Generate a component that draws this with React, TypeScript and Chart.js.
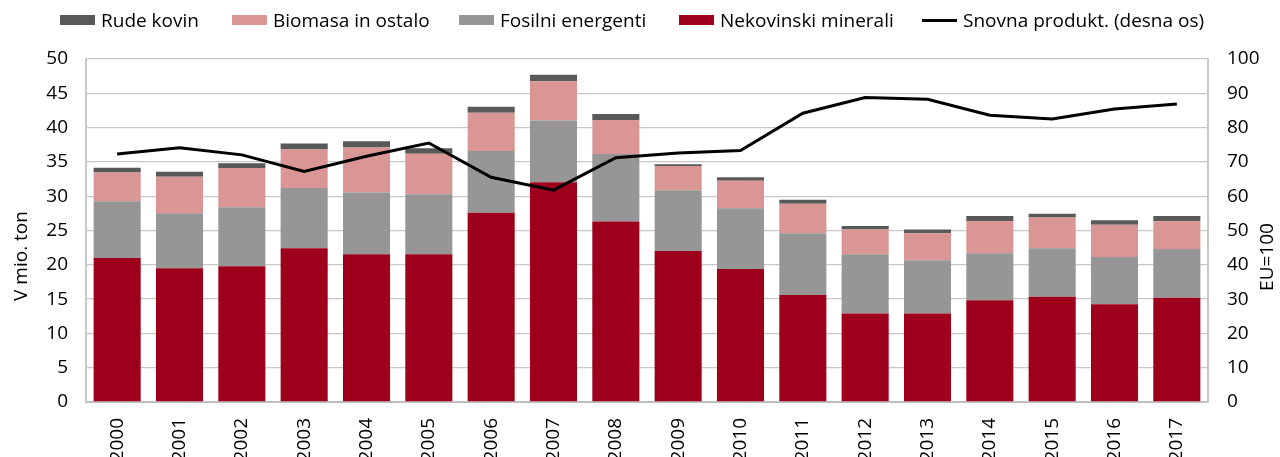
import React, { useEffect, useRef } from "react";
import { Chart, registerables } from "chart.js";

Chart.register(...registerables);

const years = ["2000", "2001", "2002", "2003", "2004", "2005", "2006", "2007", "2008", "2009", "2010", "2011", "2012", "2013", "2014", "2015", "2016", "2017"];
const nekovinskiMinerali = [21.0, 19.5, 19.8, 22.4, 21.55, 21.55, 27.6, 32.05, 26.3, 22.0, 19.4, 15.6, 12.9, 12.9, 14.85, 15.35, 14.25, 15.2];
const fosilniEnergenti = [8.25, 8.0, 8.6, 8.8, 9.0, 8.75, 9.0, 9.0, 9.85, 8.85, 8.85, 9.0, 8.65, 7.75, 6.85, 7.05, 6.9, 7.1];
const biomasaInOstalo = [4.2, 5.35, 5.7, 5.6, 6.55, 5.9, 5.55, 5.7, 4.95, 3.55, 4.0, 4.3, 3.6, 3.95, 4.7, 4.5, 4.7, 4.05];
const rudeKovin = [0.7, 0.7, 0.7, 0.9, 0.9, 0.8, 0.9, 0.95, 0.9, 0.25, 0.5, 0.6, 0.5, 0.55, 0.7, 0.55, 0.65, 0.75];
const snovnaProduktivnost = [72.3, 74.1, 72.05, 67.2, 71.65, 75.5, 65.5, 61.75, 71.2, 72.6, 73.3, 84.2, 88.75, 88.25, 83.6, 82.5, 85.4, 86.9];

const leftTicks = [0, 5, 10, 15, 20, 25, 30, 35, 40, 45, 50];
const rightTicks = [0, 10, 20, 30, 40, 50, 60, 70, 80, 90, 100];

const C_RUDE = "#595959";
const C_BIO = "#D99694";
const C_FOS = "#969696";
const C_NEK = "#9E001C";
const C_LINE = "#000000";
const GRID = "#c8c8c8";
const FONT = "'Open Sans', sans-serif";

const legendItems = [
  { label: "Rude kovin", color: C_RUDE, kind: "box", left: 60 },
  { label: "Biomasa in ostalo", color: C_BIO, kind: "box", left: 232 },
  { label: "Fosilni energenti", color: C_FOS, kind: "box", left: 459 },
  { label: "Nekovinski minerali", color: C_NEK, kind: "box", left: 679 },
  { label: "Snovna produkt. (desna os)", color: C_LINE, kind: "line", left: 922 },
];

const axisTitles = {
  id: "axisTitles",
  afterDraw(chart: any) {
    const ctx = chart.ctx;
    ctx.save();
    ctx.fillStyle = "#000";
    ctx.font = `19px ${FONT}`;
    ctx.textAlign = "center";
    ctx.textBaseline = "middle";
    ctx.save();
    ctx.translate(22, 256);
    ctx.rotate(-Math.PI / 2);
    ctx.fillText("V mio. ton", 0, 0);
    ctx.restore();
    ctx.save();
    ctx.translate(1268, 257);
    ctx.rotate(-Math.PI / 2);
    ctx.fillText("EU=100", 0, 0);
    ctx.restore();
    ctx.restore();
  },
};

export default function App() {
  const ref = useRef<HTMLCanvasElement | null>(null);

  useEffect(() => {
    document.body.style.margin = "0";
    if (!ref.current) return;
    Chart.defaults.font.family = FONT;
    const barCommon = {
      type: "bar" as const,
      yAxisID: "y",
      stack: "s",
      categoryPercentage: 0.755,
      barPercentage: 1,
      borderWidth: 0,
    };
    const chart = new Chart(ref.current, {
      type: "bar",
      data: {
        labels: years,
        datasets: [
          {
            type: "line",
            label: "Snovna produkt. (desna os)",
            data: snovnaProduktivnost,
            yAxisID: "y1",
            borderColor: C_LINE,
            backgroundColor: C_LINE,
            borderWidth: 3,
            pointRadius: 0,
            tension: 0,
          } as any,
          { ...barCommon, label: "Nekovinski minerali", data: nekovinskiMinerali, backgroundColor: C_NEK },
          { ...barCommon, label: "Fosilni energenti", data: fosilniEnergenti, backgroundColor: C_FOS },
          { ...barCommon, label: "Biomasa in ostalo", data: biomasaInOstalo, backgroundColor: C_BIO },
          { ...barCommon, label: "Rude kovin", data: rudeKovin, backgroundColor: C_RUDE },
        ],
      },
      options: {
        responsive: false,
        animation: false,
        layout: { padding: { top: 59, left: 0, right: 0, bottom: 0 } },
        plugins: {
          legend: { display: false },
          tooltip: { enabled: false },
        },
        scales: {
          x: {
            stacked: true,
            grid: { display: false },
            border: { display: true, color: "#bfbfbf", width: 2 },
            ticks: {
              color: "#000",
              font: { size: 19, family: FONT },
              minRotation: 90,
              maxRotation: 90,
              autoSkip: false,
              padding: 8,
            },
            afterFit: (s: any) => {
              s.height = 55;
            },
          },
          y: {
            stacked: true,
            position: "left",
            min: 0,
            max: 50,
            afterBuildTicks: (s: any) => {
              s.ticks = leftTicks.map((v) => ({ value: v }));
            },
            grid: { color: GRID, lineWidth: 1.3, drawTicks: false },
            border: { display: true, color: GRID, width: 2 },
            ticks: { color: "#000", font: { size: 19, family: FONT }, padding: 18 },
            afterFit: (s: any) => {
              s.width = 86;
            },
          },
          y1: {
            position: "right",
            min: 0,
            max: 100,
            afterBuildTicks: (s: any) => {
              s.ticks = rightTicks.map((v) => ({ value: v }));
            },
            grid: { display: false, drawTicks: false },
            border: { display: true, color: GRID, width: 2 },
            ticks: { color: "#000", font: { size: 19, family: FONT }, padding: 19 },
            afterFit: (s: any) => {
              s.width = 72;
            },
          },
        },
      },
      plugins: [axisTitles],
    });
    return () => chart.destroy();
  }, []);

  return (
    <div style={{ position: "fixed", left: 0, top: 0, width: 1280, height: 457, background: "#fff" }}>
      <canvas ref={ref} width={1280} height={457} style={{ position: "absolute", left: 0, top: 0, width: 1280, height: 457 }} />
      {legendItems.map((it) => (
        <div
          key={it.label}
          style={{
            position: "absolute",
            left: it.left,
            top: 8,
            height: 24,
            display: "flex",
            alignItems: "center",
            fontFamily: FONT,
            fontSize: 19,
            color: "#000",
            whiteSpace: "nowrap",
          }}
        >
          <span
            style={{
              display: "inline-block",
              width: 35,
              height: it.kind === "line" ? 3 : 10,
              background: it.color,
              marginRight: 6,
            }}
          />
          <span>{it.label}</span>
        </div>
      ))}
    </div>
  );
}
